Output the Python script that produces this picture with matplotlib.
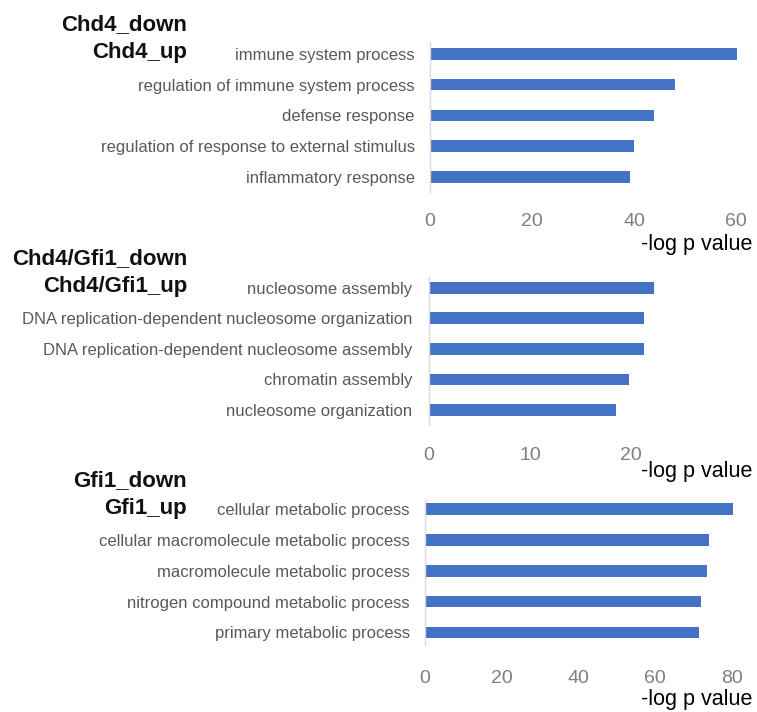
import matplotlib
matplotlib.use("Agg")
import matplotlib.pyplot as plt

plt.rcParams['font.family'] = ['Liberation Sans', 'DejaVu Sans']

# ---- data ----
chd4_terms = ["immune system process", "regulation of immune system process",
              "defense response", "regulation of response to external stimulus",
              "inflammatory response"]
chd4_values = [60.2, 48.0, 43.9, 40.0, 39.2]
chd4_ticks = [0, 20, 40, 60]

both_terms = ["nucleosome assembly", "DNA replication-dependent nucleosome organization",
              "DNA replication-dependent nucleosome assembly", "chromatin assembly",
              "nucleosome organization"]
both_values = [22.3, 21.3, 21.3, 19.8, 18.5]
both_ticks = [0, 10, 20]

gfi1_terms = ["cellular metabolic process", "cellular macromolecule metabolic process",
              "macromolecule metabolic process", "nitrogen compound metabolic process",
              "primary metabolic process"]
gfi1_values = [80.4, 74.2, 73.5, 72.0, 71.4]
gfi1_ticks = [0, 20, 40, 60, 80]

down_labels = ["Chd4_down", "Chd4/Gfi1_down", "Gfi1_down"]
up_labels = ["Chd4_up", "Chd4/Gfi1_up", "Gfi1_up"]
xlabel = "-log p value"

# ---- layout (pixels) ----
W, H = 757, 712
fig = plt.figure(figsize=(W / 100, H / 100), dpi=100)

BAR_COLOR = "#4472C4"

panels = [
    # terms, values, ticks, left_px, top_px, bottom_px, px_per_unit, xmax, ylim, label_pad, tick_pad, xlabel_y
    (chd4_terms, chd4_values, chd4_ticks, 430, 42, 192, 5.1, 62, (4.48, -0.38), 11, 15, 244),
    (both_terms, both_values, both_ticks, 429, 277, 425, 10.1, 25, (4.49, -0.35), 12, 16, 472),
    (gfi1_terms, gfi1_values, gfi1_ticks, 425, 500, 645, 3.833, 84, (4.41, -0.30), 11, 18, 700),
]

for i, (terms, vals, ticks, lpx, tpx, bpx, ppu, xmax, ylim, lpad, tpad, xly) in enumerate(panels):
    wpx = ppu * xmax
    ax = fig.add_axes([lpx / W, 1 - bpx / H, wpx / W, (bpx - tpx) / H])
    y = list(range(len(terms)))
    ax.barh(y, vals, height=0.38, color=BAR_COLOR)
    ax.set_xlim(0, xmax)
    ax.set_ylim(*ylim)
    ax.set_yticks(y)
    ax.set_yticklabels(terms, fontsize=12, color="#595959")
    ax.set_xticks(ticks)
    ax.set_xticklabels([str(t) for t in ticks], fontsize=14, color="#7f7f7f")
    ax.tick_params(axis="y", length=0, pad=lpad)
    ax.tick_params(axis="x", length=0, pad=tpad)
    for s in ["top", "right", "bottom"]:
        ax.spines[s].set_visible(False)
    ax.spines["left"].set_color("#d9d9d9")
    ax.spines["left"].set_linewidth(1.0)

    fig.text(752 / W, 1 - xly / H, xlabel, ha="right", va="center",
             fontsize=15.5, color="black")

    first_center = tpx + (0 - ylim[1]) / (ylim[0] - ylim[1]) * (bpx - tpx)
    fig.text(187 / W, 1 - (first_center - 1) / H, up_labels[i], ha="right", va="center",
             fontsize=16, fontweight="bold", color="#111111")
    fig.text(187 / W, 1 - (first_center - 29) / H, down_labels[i], ha="right", va="center",
             fontsize=16, fontweight="bold", color="#111111")

fig.savefig("out.png", dpi=100)
